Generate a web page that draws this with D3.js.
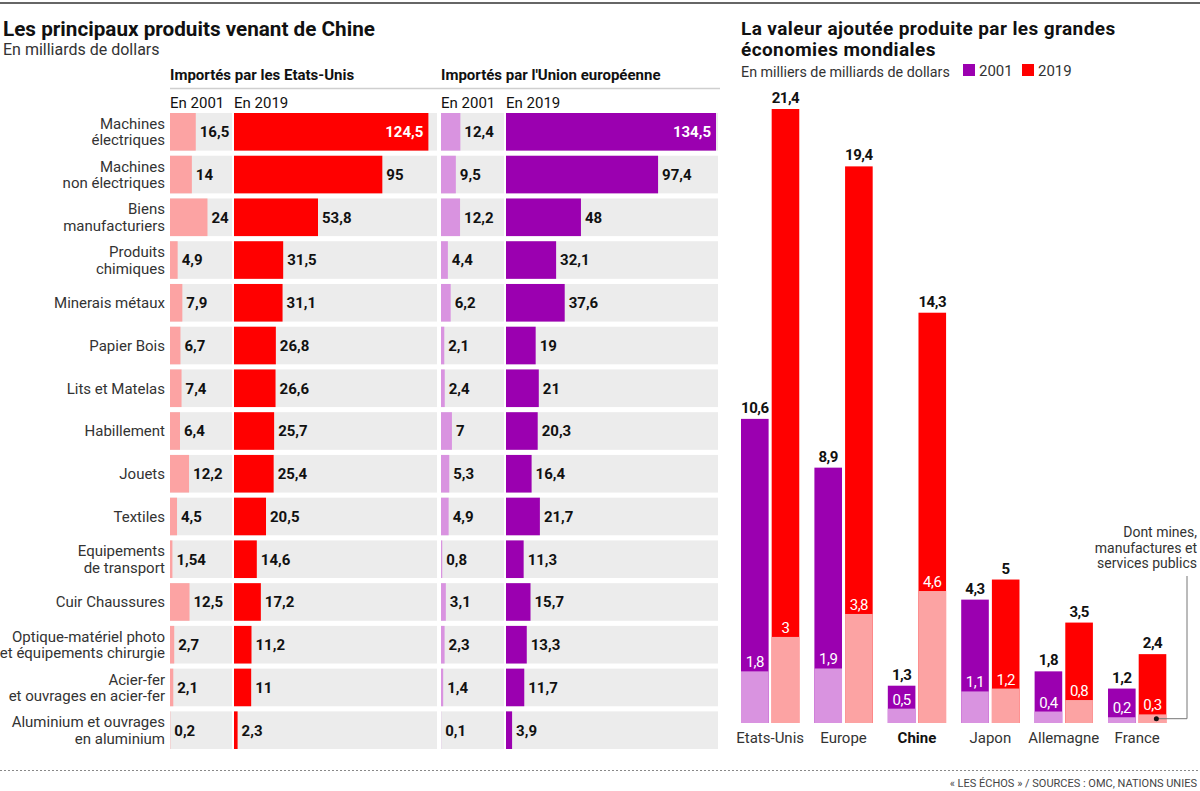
<!DOCTYPE html>
<html>
<head>
<meta charset="utf-8">
<script src="https://cdn.jsdelivr.net/npm/d3@7"></script>
<style>
  html, body { margin: 0; padding: 0; background: #fff; }
  svg { display: block; }
  .narrow { font-family: "Liberation Sans Narrow", "Roboto", sans-serif; }
  .wide { font-family: "Roboto", "Liberation Sans", sans-serif; }
</style>
</head>
<body>
<svg id="chart" width="1200" height="791"></svg>
<script>
(function () {
    "use strict";

    // Left panel: main products coming from China (billions of dollars)
    var categories = [
        ["Machines", "électriques"],
        ["Machines", "non électriques"],
        ["Biens", "manufacturiers"],
        ["Produits", "chimiques"],
        ["Minerais métaux"],
        ["Papier Bois"],
        ["Lits et Matelas"],
        ["Habillement"],
        ["Jouets"],
        ["Textiles"],
        ["Equipements", "de transport"],
        ["Cuir Chaussures"],
        ["Optique-matériel photo", "et équipements chirurgie"],
        ["Acier-fer", "et ouvrages en acier-fer"],
        ["Aluminium et ouvrages", "en aluminium"]
    ];
    var us2001 = [16.5, 14, 24, 4.9, 7.9, 6.7, 7.4, 6.4, 12.2, 4.5, 1.54, 12.5, 2.7, 2.1, 0.2];
    var us2019 = [124.5, 95, 53.8, 31.5, 31.1, 26.8, 26.6, 25.7, 25.4, 20.5, 14.6, 17.2, 11.2, 11, 2.3];
    var eu2001 = [12.4, 9.5, 12.2, 4.4, 6.2, 2.1, 2.4, 7, 5.3, 4.9, 0.8, 3.1, 2.3, 1.4, 0.1];
    var eu2019 = [134.5, 97.4, 48, 32.1, 37.6, 19, 21, 20.3, 16.4, 21.7, 11.3, 15.7, 13.3, 11.7, 3.9];

    // Right panel: value added (thousands of billions of dollars)
    var countries = ["Etats-Unis", "Europe", "Chine", "Japon", "Allemagne", "France"];
    var years = ["2001", "2019"];
    var total2001 = [10.6, 8.9, 1.3, 4.3, 1.8, 1.2];
    var total2019 = [21.4, 19.4, 14.3, 5, 3.5, 2.4];
    var industry2001 = [1.8, 1.9, 0.5, 1.1, 0.4, 0.2];
    var industry2019 = [3, 3.8, 4.6, 1.2, 0.8, 0.3];

    var colors = {
        red: "#ff0000",
        redLight: "#fca3a3",
        purple: "#9b00b0",
        purpleLight: "#d993e0",
        band: "#ececec",
        ink: "#111",
        text: "#333"
    };

    var fmt = function (v) { return String(v).replace(".", ","); };

    var svg = d3.select("#chart");

    // top rule
    svg.append("rect").attr("x", 0).attr("y", 2).attr("width", 1200).attr("height", 2).attr("fill", "#666");

    // ---------- LEFT PANEL ----------
    var left = svg.append("g");

    left.append("text").attr("class", "narrow").attr("x", 3).attr("y", 36)
        .attr("font-size", 20.7).attr("font-weight", "bold").attr("fill", colors.ink)
        .text("Les principaux produits venant de Chine");
    left.append("text").attr("class", "narrow").attr("x", 3).attr("y", 55)
        .attr("font-size", 16).attr("fill", colors.text)
        .text("En milliards de dollars");

    var panels = [
        { title: "Importés par les Etats-Unis", x0: 170, x1: 234, end: 437, a: us2001, b: us2019, ca: colors.redLight, cb: colors.red },
        { title: "Importés par l'Union européenne", x0: 441, x1: 506, end: 718, a: eu2001, b: eu2019, ca: colors.purpleLight, cb: colors.purple }
    ];

    var x = d3.scaleLinear().domain([0, 134.5]).range([0, 210]);
    var y = d3.scaleBand().domain(d3.range(categories.length)).range([113, 749]).paddingInner(0.12);

    left.append("line").attr("x1", 170).attr("x2", 720).attr("y1", 88.5).attr("y2", 88.5)
        .attr("stroke", "#cfcfcf").attr("stroke-width", 1.5);

    panels.forEach(function (p) {
        var g = left.append("g");
        g.append("text").attr("class", "narrow").attr("x", p.x0).attr("y", 80)
            .attr("font-size", 15).attr("font-weight", "bold").attr("fill", colors.ink).text(p.title);
        g.append("text").attr("class", "narrow").attr("x", p.x0).attr("y", 108)
            .attr("font-size", 15).attr("fill", colors.ink).text("En 2001");
        g.append("text").attr("class", "narrow").attr("x", p.x1).attr("y", 108)
            .attr("font-size", 15).attr("fill", colors.ink).text("En 2019");

        var rows = g.selectAll("g.row").data(categories).join("g").attr("class", "row")
            .attr("transform", function (d, i) { return "translate(0," + y(i) + ")"; });

        rows.append("rect").attr("x", p.x0).attr("width", p.x1 - 2 - p.x0)
            .attr("height", y.bandwidth()).attr("fill", colors.band);
        rows.append("rect").attr("x", p.x1).attr("width", p.end - p.x1)
            .attr("height", y.bandwidth()).attr("fill", colors.band);

        rows.append("rect").attr("x", p.x0)
            .attr("width", function (d, i) { return x(p.a[i]); })
            .attr("height", y.bandwidth()).attr("fill", p.ca);
        rows.append("rect").attr("x", p.x1)
            .attr("width", function (d, i) { return x(p.b[i]); })
            .attr("height", y.bandwidth()).attr("fill", p.cb);

        rows.append("text").attr("class", "narrow")
            .attr("x", function (d, i) { return p.x0 + x(p.a[i]) + 4; })
            .attr("y", y.bandwidth() / 2).attr("dy", "0.36em")
            .attr("font-size", 15).attr("font-weight", "bold").attr("fill", colors.ink)
            .text(function (d, i) { return fmt(p.a[i]); });

        rows.append("text").attr("class", "narrow")
            .each(function (d, i) {
                var w = x(p.b[i]);
                var inside = w > 170;
                d3.select(this)
                    .attr("x", inside ? p.x1 + w - 5 : p.x1 + w + 4)
                    .attr("text-anchor", inside ? "end" : "start")
                    .attr("fill", inside ? "#fff" : colors.ink);
            })
            .attr("y", y.bandwidth() / 2).attr("dy", "0.36em")
            .attr("font-size", 15).attr("font-weight", "bold")
            .text(function (d, i) { return fmt(p.b[i]); });
    });

    // category labels
    var cats = left.selectAll("text.cat").data(categories).join("text")
        .attr("class", "cat narrow")
        .attr("text-anchor", "end").attr("font-size", 15).attr("fill", colors.text)
        .attr("transform", function (d, i) { return "translate(165," + (y(i) + y.bandwidth() / 2) + ")"; });
    cats.selectAll("tspan").data(function (d) { return d; }).join("tspan")
        .attr("x", 0)
        .attr("y", function (d, j, nodes) { return (j - (nodes.length - 1) / 2) * 16.5; })
        .attr("dy", "0.36em")
        .text(function (d) { return d; });

    // ---------- RIGHT PANEL ----------
    var right = svg.append("g");

    right.selectAll("text.title").data(["La valeur ajoutée produite par les grandes", "économies mondiales"]).join("text")
        .attr("class", "title wide").attr("x", 741)
        .attr("y", function (d, i) { return 35 + i * 21; })
        .attr("font-size", 19).attr("font-weight", "bold").attr("fill", colors.ink)
        .attr("letter-spacing", 0.4)
        .text(function (d) { return d; });

    right.append("text").attr("class", "wide").attr("x", 741).attr("y", 77)
        .attr("font-size", 14.3).attr("fill", colors.text)
        .text("En milliers de milliards de dollars");

    var legend = right.selectAll("g.legend").data(years).join("g").attr("class", "legend")
        .attr("transform", function (d, i) { return "translate(" + (963 + i * 59) + ",64)"; });
    legend.append("rect").attr("width", 12).attr("height", 12)
        .attr("fill", function (d, i) { return i ? colors.red : colors.purple; });
    legend.append("text").attr("class", "wide").attr("x", 16).attr("y", 12)
        .attr("font-size", 15).attr("fill", colors.text).text(function (d) { return d; });

    var gx = d3.scaleBand().domain(countries).range([741, 1166.3]).paddingInner(0.206).paddingOuter(0);
    var bx = d3.scaleBand().domain(years).range([0, gx.bandwidth()]).paddingInner(0.1);
    var vy = d3.scaleLinear().domain([0, 21.4]).range([723, 109]);

    var groups = countries.map(function (c, i) {
        return {
            country: c,
            bars: [
                { year: "2001", total: total2001[i], part: industry2001[i], c: colors.purple, cl: colors.purpleLight },
                { year: "2019", total: total2019[i], part: industry2019[i], c: colors.red, cl: colors.redLight }
            ]
        };
    });

    var grp = right.selectAll("g.country").data(groups).join("g").attr("class", "country")
        .attr("transform", function (d) { return "translate(" + gx(d.country) + ",0)"; });

    var bar = grp.selectAll("g.bar").data(function (d) { return d.bars; }).join("g").attr("class", "bar")
        .attr("transform", function (d) { return "translate(" + bx(d.year) + ",0)"; });

    bar.append("rect").attr("width", bx.bandwidth())
        .attr("y", function (d) { return vy(d.total); })
        .attr("height", function (d) { return vy(0) - vy(d.total); })
        .attr("fill", function (d) { return d.c; });
    bar.append("rect").attr("width", bx.bandwidth())
        .attr("y", function (d) { return vy(d.part); })
        .attr("height", function (d) { return vy(0) - vy(d.part); })
        .attr("fill", function (d) { return d.cl; });

    bar.append("text").attr("class", "wide").attr("text-anchor", "middle")
        .attr("x", bx.bandwidth() / 2)
        .attr("y", function (d) { return vy(d.total) - 6; })
        .attr("font-size", 15).attr("font-weight", "bold").attr("fill", colors.ink)
        .attr("letter-spacing", -0.5)
        .text(function (d) { return fmt(d.total); });
    bar.append("text").attr("class", "wide").attr("text-anchor", "middle")
        .attr("x", bx.bandwidth() / 2)
        .attr("y", function (d) { return vy(d.part) - 4; })
        .attr("font-size", 15).attr("fill", "#fff")
        .attr("letter-spacing", -0.5)
        .text(function (d) { return fmt(d.part); });

    grp.append("text").attr("class", "wide").attr("text-anchor", "middle")
        .attr("x", gx.bandwidth() / 2).attr("y", 743)
        .attr("font-size", 15)
        .attr("font-weight", function (d) { return d.country === "Chine" ? "bold" : "normal"; })
        .attr("fill", function (d) { return d.country === "Chine" ? colors.ink : colors.text; })
        .text(function (d) { return d.country; });

    // annotation
    right.append("text").attr("class", "wide").attr("text-anchor", "end")
        .attr("font-size", 14).attr("fill", colors.text)
        .selectAll("tspan").data(["Dont mines,", "manufactures et", "services publics"]).join("tspan")
        .attr("x", 1197).attr("y", function (d, i) { return 537 + i * 15.5; })
        .text(function (d) { return d; });

    var dotX = gx("France") + bx("2019") + bx.bandwidth() * 0.64;
    var dotY = vy(industry2019[5] / 2);
    right.append("path")
        .attr("d", "M1187,576V" + dotY + "H" + dotX)
        .attr("fill", "none").attr("stroke", "#777").attr("stroke-width", 1);
    right.append("circle").attr("cx", dotX).attr("cy", dotY).attr("r", 2.5).attr("fill", colors.ink);

    // footer
    svg.append("line").attr("x1", 0).attr("x2", 1200).attr("y1", 770.5).attr("y2", 770.5)
        .attr("stroke", "#888").attr("stroke-width", 1).attr("stroke-dasharray", "2,2");
    svg.append("text").attr("class", "wide").attr("x", 1197).attr("y", 787)
        .attr("text-anchor", "end").attr("font-size", 11).attr("fill", "#444")
        .text("« LES ÉCHOS » / SOURCES : OMC, NATIONS UNIES");
})();
</script>
</body>
</html>
